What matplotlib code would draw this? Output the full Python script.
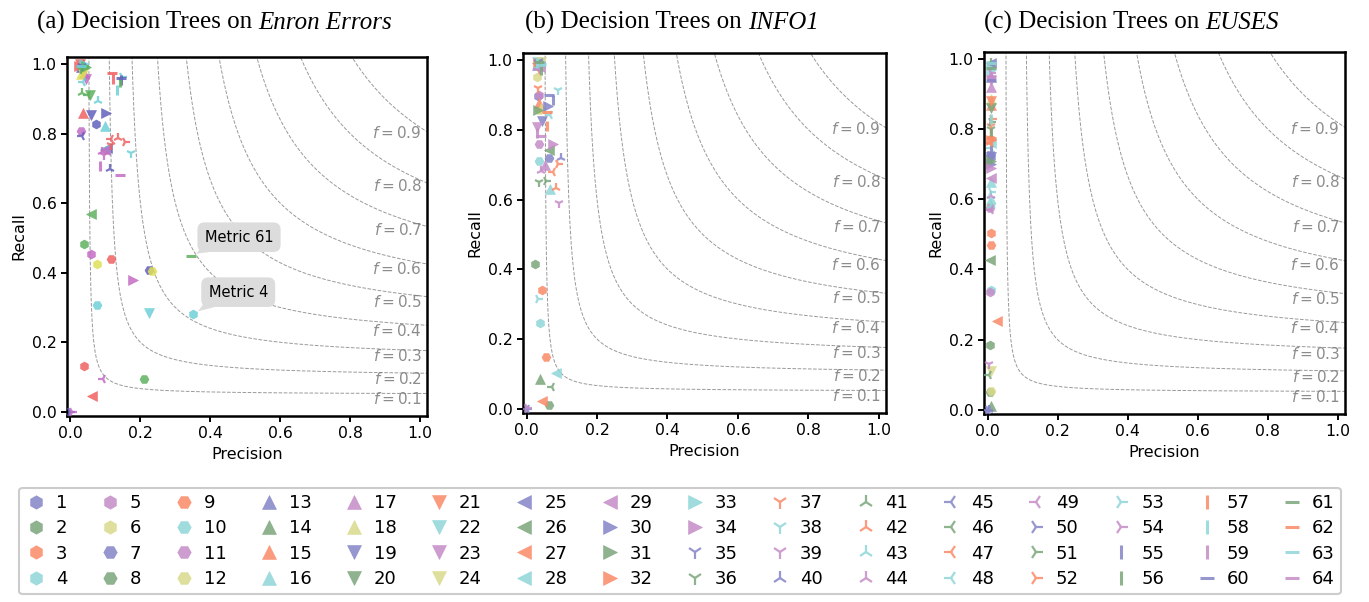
import numpy as np
import matplotlib
matplotlib.use("Agg")
import matplotlib.pyplot as plt

# metric ids 1..64
metrics = list(range(1, 65))

# (a) Enron Errors
enron_precision = [0.074, 0.040, 0.038, 0.351, 0.060, 0.076, 0.225, 0.210, 0.117, 0.076,
                   0.031, 0.232, 0.030, 0.035, 0.036, 0.100, 0.040, 0.030, 0.059, 0.057,
                   0.028, 0.224, 0.043, 0.035, 0.105, 0.060, 0.062, 0.100, 0.098, 0.103,
                   0.045, 0.025, 0.040, 0.180, 0.033, 0.030, 0.117, 0.172, 0.095, 0.112,
                   0.033, 0.137, 0.080, 0.090, 0.033, 0.050, 0.115, 0.035, 0.094, 0.000,
                   0.038, 0.157, 0.148, 0.003, 0.145, 0.142, 0.123, 0.132, 0.083, 0.145,
                   0.345, 0.120, 0.030, 0.143]
enron_recall = [0.826, 0.482, 0.132, 0.280, 0.453, 0.425, 0.407, 0.094, 0.438, 0.306,
                0.806, 0.405, 0.990, 1.000, 0.860, 0.823, 0.975, 0.972, 0.852, 0.912,
                1.000, 0.283, 0.958, 0.970, 0.757, 0.568, 0.045, 0.755, 0.752, 0.858,
                0.990, 0.995, 1.000, 0.378, 0.995, 0.985, 0.766, 0.744, 0.737, 0.697,
                0.916, 0.786, 0.893, 0.748, 0.794, 0.912, 0.783, 0.948, 0.095, 0.000,
                0.995, 0.775, 0.962, 0.000, 0.955, 0.948, 0.958, 0.926, 0.708, 0.960,
                0.447, 0.973, 0.995, 0.680]

# (b) INFO1
info1_precision = [0.032, 0.024, 0.044, 0.037, 0.035, 0.030, 0.064, 0.063, 0.056, 0.035,
                   0.035, 0.035, 0.030, 0.037, 0.035, 0.066, 0.052, 0.040, 0.044, 0.035,
                   0.035, 0.030, 0.029, 0.040, 0.030, 0.064, 0.043, 0.084, 0.038, 0.061,
                   0.032, 0.033, 0.040, 0.075, 0.032, 0.035, 0.032, 0.088, 0.092, 0.097,
                   0.036, 0.085, 0.030, 0.040, 0.000, 0.071, 0.075, 0.068, 0.033, 0.002,
                   0.055, 0.088, 0.033, 0.000, 0.075, 0.040, 0.058, 0.030, 0.029, 0.064,
                   0.035, 0.058, 0.040, 0.040]
info1_recall = [0.898, 0.414, 0.342, 0.245, 0.900, 0.950, 0.718, 0.011, 0.148, 0.709,
                0.758, 0.857, 0.985, 0.086, 0.877, 0.630, 0.700, 0.862, 0.824, 0.990,
                0.975, 0.995, 0.807, 0.995, 0.990, 0.742, 0.023, 0.103, 0.980, 0.869,
                0.857, 0.990, 0.990, 0.760, 0.995, 0.650, 0.920, 0.913, 0.590, 0.720,
                0.985, 0.632, 0.980, 0.682, 0.000, 0.063, 0.678, 0.843, 0.975, 0.000,
                0.653, 0.703, 0.314, 0.002, 0.886, 0.970, 0.810, 0.990, 0.790, 0.900,
                0.995, 0.850, 0.985, 0.783]

# (c) EUSES
euses_precision = [0.010, 0.008, 0.010, 0.009, 0.007, 0.008, 0.008, 0.008, 0.009, 0.010,
                   0.007, 0.009, 0.010, 0.009, 0.010, 0.010, 0.010, 0.010, 0.010, 0.010,
                   0.010, 0.010, 0.010, 0.010, 0.010, 0.008, 0.027, 0.010, 0.010, 0.010,
                   0.010, 0.010, 0.010, 0.010, 0.010, 0.010, 0.010, 0.010, 0.005, 0.005,
                   0.010, 0.010, 0.010, 0.010, 0.000, 0.004, 0.010, 0.010, 0.010, 0.000,
                   0.010, 0.012, 0.010, 0.010, 0.010, 0.010, 0.010, 0.010, 0.010, 0.010,
                   0.010, 0.010, 0.010, 0.010]
euses_recall = [0.720, 0.185, 0.504, 0.342, 0.335, 0.580, 0.725, 0.051, 0.471, 0.590,
                0.575, 0.053, 0.950, 0.012, 0.870, 0.650, 0.920, 0.885, 0.720, 0.860,
                0.880, 0.980, 0.940, 0.112, 0.990, 0.427, 0.254, 0.760, 0.660, 0.700,
                0.710, 0.770, 0.970, 0.690, 0.730, 0.800, 0.810, 0.600, 0.131, 0.000,
                0.990, 0.780, 0.580, 0.610, 0.000, 0.100, 0.760, 0.745, 0.570, 0.000,
                0.820, 0.830, 0.620, 0.960, 0.740, 0.790, 0.765, 0.830, 0.945, 0.940,
                0.975, 0.775, 0.990, 0.950]

title_prefix = ["(a) Decision Trees on ", "(b) Decision Trees on ", "(c) Decision Trees on "]
datasets = ["Enron Errors", "INFO1", "EUSES"]
f_scores = [0.1, 0.2, 0.3, 0.4, 0.5, 0.6, 0.7, 0.8, 0.9]

# marker groups (sizes of each group)
marker_groups = [('h', 6), ('H', 6), ('^', 6), ('v', 6), ('<', 5), ('>', 5),
                 ('1', 5), ('2', 5), ('3', 5), ('4', 5), ('|', 5), ('_', 5)]
muted = ['#8585c8', '#7ba67b', '#fb8a68', '#8fd6d9', '#c58cc8', '#dada8c']
vivid = ['#6262bd', '#5fb15f', '#f06262', '#6fd0d8', '#c36cc3', '#e0e05a']

styles = []
for m, n in marker_groups:
    for k in range(n):
        styles.append((m, k))

W, H = 1369, 602
fig = plt.figure(figsize=(W / 100, H / 100), dpi=100)
boxes = [(67, 57, 427, 416), (523, 53, 886, 413), (984, 52, 1345, 414)]
title_left = [37, 525, 984]
data = [(enron_precision, enron_recall, vivid),
        (info1_precision, info1_recall, muted),
        (euses_precision, euses_recall, muted)]

handles = None
for i, (l, t, r, b) in enumerate(boxes):
    ax = fig.add_axes([l / W, 1 - b / H, (r - l) / W, (b - t) / H])
    prec, rec, pal = data[i]

    x = np.linspace(0.005, 1.03, 600)
    for f in f_scores:
        xs = x[x > f / 2 + 1e-4]
        y = f * xs / (2 * xs - f)
        ax.plot(xs, y, color='gray', ls='--', lw=0.7, alpha=0.8, zorder=1)
        yend = f / (2 - f)
        ax.text(1.005, yend - 0.017, "$f=%.1f$" % f, color='gray', alpha=0.9,
                fontsize=11, ha='right', va='center')

    hs = []
    for j, mid in enumerate(metrics):
        m, k = styles[j]
        c = pal[k]
        if m in ('1', '2', '3', '4'):
            kw = dict(ms=7, mew=1.6)
        elif m in ('|', '_'):
            kw = dict(ms=7, mew=2.2)
        else:
            kw = dict(ms=6.5, mew=0.4, mec=c)
        h, = ax.plot([prec[j]], [rec[j]], marker=m, ls='none', color=c,
                     alpha=0.85, label=str(mid), zorder=3, **kw)
        hs.append(h)
    if i == 1:
        handles = hs

    ax.set_xlim(-0.01, 1.02)
    ax.set_ylim(-0.012, 1.02)
    ax.set_xticks([0.0, 0.2, 0.4, 0.6, 0.8, 1.0])
    ax.set_yticks([0.0, 0.2, 0.4, 0.6, 0.8, 1.0])
    ax.tick_params(labelsize=11.3, width=1.4, length=4)
    for s in ax.spines.values():
        s.set_linewidth(1.8)
    ax.set_xlabel("Precision", fontsize=11.5)
    ax.set_ylabel("Recall", fontsize=11.5)

    # title: upright prefix + italic dataset name
    t1 = fig.text(title_left[i] / W, 1 - 34 / H, title_prefix[i], fontsize=18,
                  family='Liberation Serif', ha='left', va='bottom')
    ax.annotate(datasets[i], xy=(1, 0), xycoords=t1, fontsize=18,
                family='Liberation Serif', style='italic', ha='left', va='bottom',
                annotation_clip=False)

    if i == 0:
        box = dict(boxstyle='round,pad=0.5', fc='#dcdcdc', ec='none')
        arr = dict(arrowstyle='wedge,tail_width=1.0', fc='#dcdcdc', ec='none',
                   relpos=(0.12, 0.0), patchA=None, shrinkA=0, shrinkB=4)
        ax.annotate("Metric 61", xy=(prec[60], rec[60]), xytext=(0.384, 0.502),
                    ha='left', va='center', fontsize=10.5, bbox=box, arrowprops=arr)
        ax.annotate("Metric 4", xy=(prec[3], rec[3]), xytext=(0.395, 0.344),
                    ha='left', va='center', fontsize=10.5, bbox=box, arrowprops=arr)

leg = fig.legend(handles, [str(m) for m in metrics], loc='center',
                 bbox_to_anchor=(10 / W, 2 / H, 1340 / W, 118 / H), mode='expand',
                 ncol=16, fontsize=13, markerscale=1.5, handlelength=1.2,
                 handletextpad=0.5, labelspacing=0.4, borderpad=0.35,
                 fancybox=True, framealpha=1, edgecolor='#cccccc')
leg.get_frame().set_linewidth(1.5)

fig.savefig("out.png", dpi=100)
